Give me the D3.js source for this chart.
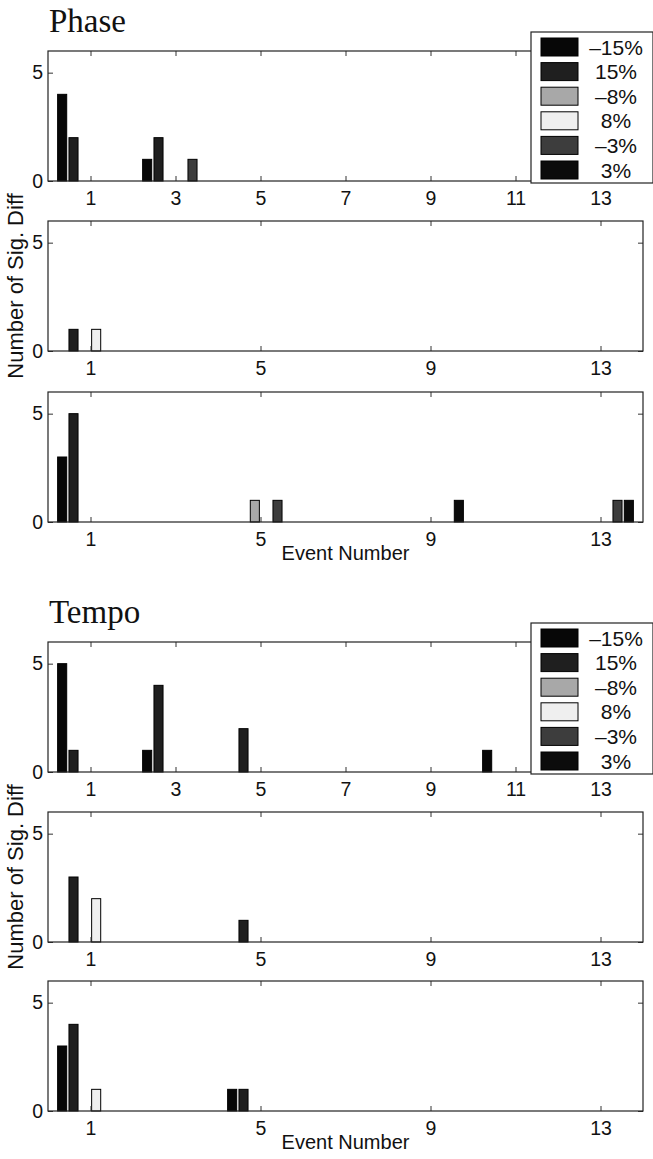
<!DOCTYPE html>
<html>
<head>
<meta charset="utf-8">
<script src="https://cdn.jsdelivr.net/npm/d3@7"></script>
<style>
  body { margin: 0; background: #fff; }
  svg { display: block; }
</style>
</head>
<body>
<svg id="chart" width="653" height="1159"></svg>
<script>
// Event positions (groups) and series names
const events = [1, 3, 5, 7, 9, 11, 13];
const series = ["\u201315%", "15%", "\u20138%", "8%", "\u20133%", "3%"];
const seriesColors = ["#070707", "#1f1f1f", "#a8a8a8", "#efefef", "#3d3d3d", "#0c0c0c"];

// counts per series (rows follow `series`), columns follow `events`
const phaseA = [
  [4, 1, 0, 0, 0, 0, 0],
  [2, 2, 0, 0, 0, 0, 0],
  [0, 0, 0, 0, 0, 0, 0],
  [0, 0, 0, 0, 0, 0, 0],
  [0, 1, 0, 0, 0, 0, 0],
  [0, 0, 0, 0, 0, 0, 0]
];
const phaseB = [
  [0, 0, 0, 0, 0, 0, 0],
  [1, 0, 0, 0, 0, 0, 0],
  [0, 0, 0, 0, 0, 0, 0],
  [1, 0, 0, 0, 0, 0, 0],
  [0, 0, 0, 0, 0, 0, 0],
  [0, 0, 0, 0, 0, 0, 0]
];
const phaseC = [
  [3, 0, 0, 0, 0, 0, 0],
  [5, 0, 0, 0, 0, 0, 0],
  [0, 0, 1, 0, 0, 0, 0],
  [0, 0, 0, 0, 0, 0, 0],
  [0, 0, 1, 0, 0, 0, 1],
  [0, 0, 0, 0, 1, 0, 1]
];
const tempoA = [
  [5, 1, 0, 0, 0, 1, 0],
  [1, 4, 2, 0, 0, 0, 0],
  [0, 0, 0, 0, 0, 0, 0],
  [0, 0, 0, 0, 0, 0, 0],
  [0, 0, 0, 0, 0, 0, 0],
  [0, 0, 0, 0, 0, 0, 0]
];
const tempoB = [
  [0, 0, 0, 0, 0, 0, 0],
  [3, 0, 1, 0, 0, 0, 0],
  [0, 0, 0, 0, 0, 0, 0],
  [2, 0, 0, 0, 0, 0, 0],
  [0, 0, 0, 0, 0, 0, 0],
  [0, 0, 0, 0, 0, 0, 0]
];
const tempoC = [
  [3, 0, 1, 0, 0, 0, 0],
  [4, 0, 1, 0, 0, 0, 0],
  [0, 0, 0, 0, 0, 0, 0],
  [1, 0, 0, 0, 0, 0, 0],
  [0, 0, 0, 0, 0, 0, 0],
  [0, 0, 0, 0, 0, 0, 0]
];

const ticksDense = [1, 3, 5, 7, 9, 11, 13];
const ticksSparse = [1, 5, 9, 13];
const yTicks = [0, 5];

const svg = d3.select("#chart");
const sansFont = "'Liberation Sans', Arial, Helvetica, sans-serif";
const serifFont = "'Liberation Serif', 'Times New Roman', serif";

const left = 48, right = 643, panelH = 130;
const x = d3.scaleLinear().domain([0, 14]).range([left, right]);
// slot offset within a group, in event units
const inner = d3.scaleBand().domain(series).range([-0.8, 0.8]).paddingInner(0.2).paddingOuter(0.1);

function drawPanel(data, top, xticks) {
  const y = d3.scaleLinear().domain([0, 6]).range([top + panelH, top]);
  const g = svg.append("g");

  const bars = [];
  data.forEach((row, si) => row.forEach((v, ei) => {
    if (v > 0) bars.push({ s: series[si], color: seriesColors[si], e: events[ei], v });
  }));

  g.selectAll("rect.bar").data(bars).join("rect")
    .attr("class", "bar")
    .attr("x", d => x(d.e + inner(d.s)))
    .attr("width", d => x(d.e + inner(d.s) + inner.bandwidth()) - x(d.e + inner(d.s)))
    .attr("y", d => y(d.v))
    .attr("height", d => y(0) - y(d.v))
    .attr("fill", d => d.color)
    .attr("stroke", "#000")
    .attr("stroke-width", 1);

  const styleAxis = sel => {
    sel.select(".domain").remove();
    sel.selectAll("line").attr("stroke", "#333").attr("stroke-width", 1);
    sel.selectAll("text").attr("fill", "#111").style("font-family", sansFont).style("font-size", "19.5px");
  };

  g.append("g").attr("transform", `translate(0,${top + panelH})`)
    .call(d3.axisBottom(x).tickValues(xticks).tickSizeInner(-5).tickSizeOuter(0).tickPadding(10).tickFormat(d3.format("d")))
    .call(styleAxis);
  g.append("g").attr("transform", `translate(0,${top})`)
    .call(d3.axisTop(x).tickValues(xticks).tickSizeInner(-5).tickSizeOuter(0).tickFormat(""))
    .call(styleAxis);
  g.append("g").attr("transform", `translate(${left},0)`)
    .call(d3.axisLeft(y).tickValues(yTicks).tickSizeInner(-5).tickSizeOuter(0).tickPadding(5).tickFormat(d3.format("d")))
    .call(styleAxis);
  g.append("g").attr("transform", `translate(${right},0)`)
    .call(d3.axisRight(y).tickValues(yTicks).tickSizeInner(-5).tickSizeOuter(0).tickFormat(""))
    .call(styleAxis);

  g.append("rect")
    .attr("x", left).attr("y", top)
    .attr("width", right - left).attr("height", panelH)
    .attr("fill", "none").attr("stroke", "#222").attr("stroke-width", 1.2);
}

function drawLegend(top) {
  const lx = 531, lw = 122, lh = 151;
  const g = svg.append("g");
  g.append("rect").attr("x", lx).attr("y", top).attr("width", lw).attr("height", lh)
    .attr("fill", "#fff").attr("stroke", "#222").attr("stroke-width", 1.2);
  const rowY = d3.scalePoint().domain(series).range([top + 15, top + 138]);
  const items = g.selectAll("g.item").data(series).join("g").attr("class", "item");
  items.append("rect")
    .attr("x", lx + 10).attr("y", d => rowY(d) - 9)
    .attr("width", 37).attr("height", 18)
    .attr("fill", (d, i) => seriesColors[i])
    .attr("stroke", "#000").attr("stroke-width", 1);
  items.append("text")
    .attr("x", lx + 85).attr("y", d => rowY(d))
    .attr("dy", "0.36em")
    .attr("text-anchor", "middle")
    .style("font-family", sansFont).style("font-size", "21px").attr("fill", "#111")
    .text(d => d);
}

function drawGroup(title, titleY, tops, datasets) {
  svg.append("text").attr("x", 49).attr("y", titleY)
    .style("font-family", serifFont).style("font-size", "33px").attr("fill", "#111")
    .text(title);

  datasets.forEach((d, i) => drawPanel(d, tops[i], i === 0 ? ticksDense : ticksSparse));
  drawLegend(tops[0] - 19);

  const midY = tops[1] + panelH / 2;
  svg.append("text")
    .attr("transform", `translate(23,${midY}) rotate(-90)`)
    .attr("text-anchor", "middle")
    .style("font-family", sansFont).style("font-size", "22px").attr("fill", "#111")
    .text("Number of Sig. Diff");

  svg.append("text")
    .attr("x", (left + right) / 2).attr("y", tops[2] + panelH + 38)
    .attr("text-anchor", "middle")
    .style("font-family", sansFont).style("font-size", "20px").attr("fill", "#111")
    .text("Event Number");
}

drawGroup("Phase", 32, [51, 221, 392], [phaseA, phaseB, phaseC]);
drawGroup("Tempo", 623, [642, 812, 981], [tempoA, tempoB, tempoC]);
</script>
</body>
</html>
